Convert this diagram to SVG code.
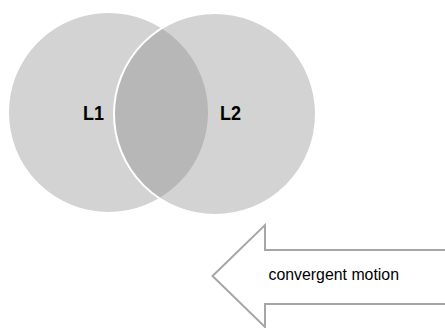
<svg xmlns="http://www.w3.org/2000/svg" width="445" height="328" viewBox="0 0 445 328">
<style>
.c{fill:#868686;fill-opacity:0.36;stroke:#ffffff;stroke-width:2}
.lbl{font-family:"Liberation Sans",Arial,sans-serif;font-weight:bold;font-size:21px;fill:#000}
.t{font-family:"Liberation Sans",Arial,sans-serif;font-size:16px;fill:#000}
</style>
<rect width="445" height="328" fill="#ffffff"/>
<g id="L1"><circle class="c" cx="108.5" cy="112.5" r="100.5"/></g>
<g id="L2"><circle class="c" cx="215" cy="114" r="101"/></g>
<g id="labels">
<text class="lbl" x="83" y="120" textLength="21" lengthAdjust="spacingAndGlyphs">L1</text>
<text class="lbl" x="220" y="120" textLength="21" lengthAdjust="spacingAndGlyphs">L2</text>
</g>
<g id="arrow">
<polygon points="447,250 265,250 265,225 212.5,276 265,327 265,304 447,304" fill="#ffffff" stroke="#a6a6a6" stroke-width="2"/>
<text class="t" x="268.5" y="280" textLength="130.5" lengthAdjust="spacingAndGlyphs">convergent motion</text>
</g>
</svg>
